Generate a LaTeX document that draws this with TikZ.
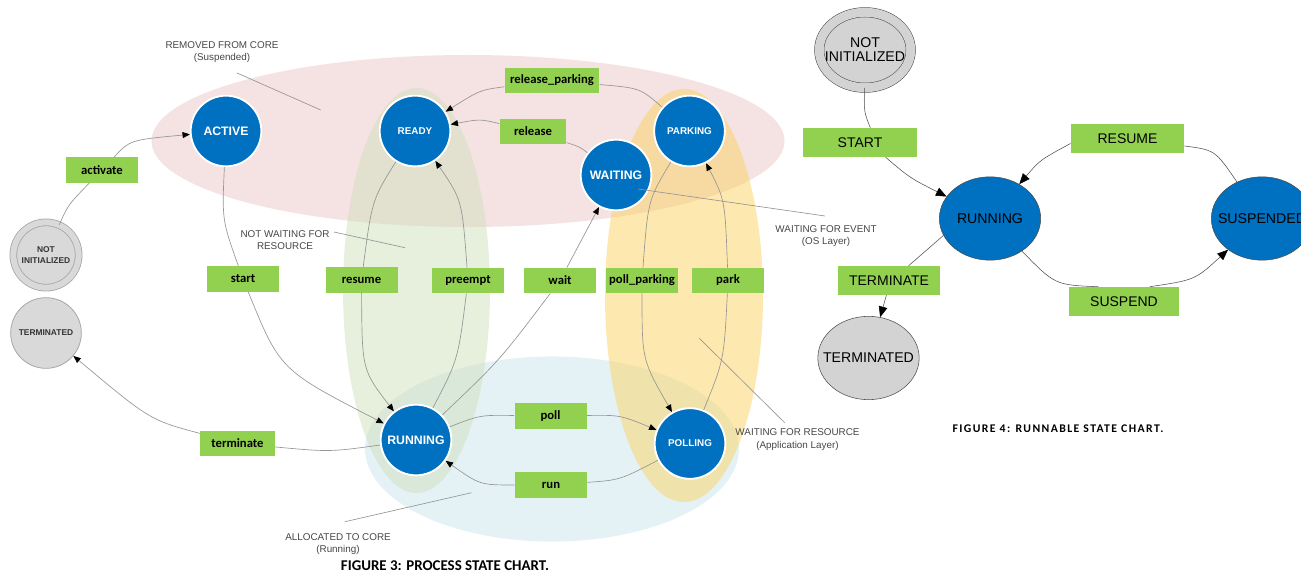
\documentclass[tikz,border=0pt]{standalone}
\usepackage{fontspec}
\setmainfont{Liberation Sans}
\newfontfamily\lblfont{Carlito}
\usetikzlibrary{arrows.meta,shapes.geometric}

\definecolor{stblue}{RGB}{0,112,192}
\definecolor{lblgreen}{RGB}{146,208,80}
\definecolor{stgray}{RGB}{217,217,217}
\definecolor{stgrayb}{RGB}{211,211,211}
\definecolor{edgegray}{RGB}{150,150,150}
\definecolor{notegray}{RGB}{70,70,70}
\definecolor{zpink}{RGB}{235,197,197}
\definecolor{zgreen}{RGB}{207,223,187}
\definecolor{zyellow}{RGB}{251,211,97}
\definecolor{zblue}{RGB}{203,229,235}

\begin{document}
\begin{tikzpicture}[x=0.75pt,y=-0.75pt,
  state/.style={circle,fill=stblue,draw=white,line width=1.4pt,text=white,
    font=\bfseries\fontsize{9.2}{10}\selectfont,minimum size=53pt,inner sep=0pt},
  smallst/.style={state,font=\bfseries\fontsize{7.4}{9}\selectfont},
  gstate/.style={circle,fill=stgray,draw=gray!70,line width=0.6pt,text=black!80,align=center,
    font=\bfseries\fontsize{6.3}{8}\selectfont,minimum size=53pt,inner sep=0pt},
  lbl/.style={fill=lblgreen,font=\lblfont\bfseries\fontsize{9.5}{11}\selectfont,
    minimum width=54pt,minimum height=19pt,inner sep=0pt},
  tr/.style={draw=edgegray,line width=0.5pt,-{Triangle[length=5.5pt,width=4.5pt,color=black]}},
  ln/.style={draw=edgegray,line width=0.5pt},
  note/.style={text=notegray,font=\fontsize{7.4}{9.2}\selectfont,align=center},
  estate/.style={ellipse,draw=black!70,line width=0.4pt,minimum width=76pt,minimum height=62.5pt,
    inner xsep=-12pt,font=\fontsize{10.6}{10.5}\selectfont,align=center},
  lbltwo/.style={fill=lblgreen,font=\fontsize{10.5}{12}\selectfont,minimum height=21.75pt,inner sep=0pt},
  lntwo/.style={draw=black!70,line width=0.4pt},
  trtwo/.style={lntwo,-{Triangle[length=8pt,width=6.5pt,color=black]}}]
\useasboundingbox (0,0) rectangle (1301,573);

\fill[zpink,fill opacity=0.5] (468,141) ellipse [x radius=237.4pt,y radius=64.5pt];
\fill[zblue,fill opacity=0.5] (552,449) ellipse [x radius=140.25pt,y radius=69.4pt];
\fill[zgreen,fill opacity=0.5] (416.5,290.5) ellipse [x radius=55.1pt,y radius=151.9pt];
\fill[zyellow,fill opacity=0.5] (684,295.5) ellipse [x radius=59.25pt,y radius=154.9pt];

\node[state] (active) at (226,131) {ACTIVE};
\node[smallst] (ready) at (415,131) {READY};
\node[smallst] (parking) at (689.5,131) {PARKING};
\node[state] (waiting) at (616,175) {WAITING};
\node[state] (running) at (416,440) {RUNNING};
\node[smallst] (polling) at (690,443.5) {POLLING};
\node[gstate,double=stgray,double distance=4.5pt,minimum size=49pt] (ninit) at (46,255) {NOT\\INITIALIZED};
\node[gstate] (term) at (46,333) {TERMINATED};

\node[lbl] (lact) at (102,170) {activate};
\node[lbl] (lstart) at (243,279) {start};
\node[lbl] (lresume) at (361.5,280) {resume};
\node[lbl] (lpreempt) at (468,280.5) {preempt};
\node[lbl] (lwait) at (560,280.5) {wait};
\node[lbl] (lpollpark) at (642,280.5) {poll\_parking};
\node[lbl] (lpark) at (728,280.5) {park};
\node[lbl,minimum width=71pt] (lrelpark) at (552,80.5) {release\_parking};
\node[lbl,minimum width=50pt] (lrelease) at (533,131.5) {release};
\node[lbl,minimum width=56pt] (lterm) at (237.5,443.5) {terminate};
\node[lbl] (lpoll) at (550.5,416) {poll};
\node[lbl] (lrun) at (551,485) {run};

\draw[ln] (ninit) .. controls (68,205) .. (lact);
\draw[tr] (lact) .. controls (130,140) .. (active);
\draw[ln] (active) .. controls (222,220) .. (lstart);
\draw[tr] (lstart) .. controls (280,370) .. (running);
\draw[ln] (ready) .. controls (372,200) .. (lresume);
\draw[tr] (lresume) .. controls (362,370) .. (running);
\draw[ln] (running) .. controls (458,360) .. (lpreempt);
\draw[tr] (lpreempt) .. controls (462,200) .. (ready);
\draw[ln] (running) .. controls (500,360) .. (lwait);
\draw[tr] (lwait) -- (waiting);
\draw[ln] (waiting) .. controls (580,147) .. (lrelease);
\draw[tr] (lrelease) .. controls (480,119) .. (ready);
\draw[ln] (parking) .. controls (640,88) .. (lrelpark);
\draw[tr] (lrelpark) .. controls (480,90) .. (ready);
\draw[ln] (parking) .. controls (648,200) .. (lpollpark);
\draw[tr] (lpollpark) .. controls (642,360) .. (polling);
\draw[ln] (polling) .. controls (724,360) .. (lpark);
\draw[tr] (lpark) .. controls (725,200) .. (parking);
\draw[ln] (running) .. controls (480,415) .. (lpoll);
\draw[tr] (lpoll) .. controls (620,415) .. (polling);
\draw[ln] (polling) .. controls (620,480) .. (lrun);
\draw[tr] (lrun) .. controls (480,485) .. (running);
\draw[ln] (running) .. controls (330,452) .. (lterm);
\draw[tr] (lterm) .. controls (150,420) .. (term);

\node[note] (nremoved) at (222,52) {REMOVED FROM CORE\\(Suspended)};
\node[note] (nnotwait) at (285,240) {NOT WAITING FOR\\RESOURCE};
\node[note] (nevent) at (826,236) {WAITING FOR EVENT\\(OS Layer)};
\node[note] (nresource) at (797.5,439.5) {WAITING FOR RESOURCE\\(Application Layer)};
\node[note] (nalloc) at (338,544) {ALLOCATED TO CORE\\(Running)};
\coordinate (aremoved) at (237,73);   \coordinate (premoved) at (320.7,110);
\coordinate (anotwait) at (334,232);  \coordinate (pnotwait) at (405,247.7);
\coordinate (aevent) at (825,216);    \coordinate (pevent) at (638,189);
\coordinate (aresource) at (785,423); \coordinate (presource) at (699,338);
\coordinate (aalloc) at (345,521.7);  \coordinate (palloc) at (471.5,492.7);
\draw[ln] (aremoved) -- (premoved);
\draw[ln] (anotwait) -- (pnotwait);
\draw[ln] (aevent) -- (pevent);
\draw[ln] (aresource) -- (presource);
\draw[ln] (aalloc) -- (palloc);

\node[font=\lblfont\bfseries\fontsize{11.2}{13}\selectfont] (capthree) at (445,566) {FIGURE 3: PROCESS STATE CHART.};

\node[estate,fill=stgrayb,double=stgrayb,double distance=6.7pt,minimum width=68.6pt,minimum height=56.6pt] (ninittwo) at (865,50) {NOT\\INITIALIZED};
\node[estate,fill=stblue] (runtwo) at (990,218.5) {RUNNING};
\node[estate,fill=stblue] (susp) at (1262,218.5) {SUSPENDED};
\node[estate,fill=stgrayb] (termtwo) at (868.5,358) {TERMINATED};
\node[lbltwo,minimum width=85.5pt] (lstarttwo) at (860,142.5) {START};
\node[lbltwo,minimum width=85pt] (lresumetwo) at (1127.5,138.5) {RESUME};
\node[lbltwo,minimum width=82.5pt] (lsusptwo) at (1124,301.5) {SUSPEND};
\node[lbltwo,minimum width=76.5pt] (ltermtwo) at (889,280.5) {TERMINATE};

\draw[lntwo] (ninittwo) .. controls (864,112) .. (lstarttwo.55);
\draw[trtwo] (lstarttwo.-30) .. controls (910,178) .. (runtwo);
\draw[lntwo] (susp) .. controls (1215,150) .. (lresumetwo);
\draw[trtwo] (lresumetwo.185) .. controls (1040,160) .. (runtwo);
\draw[lntwo] (runtwo) .. controls (1055,285) .. (lsusptwo.150);
\draw[trtwo] (lsusptwo.30) .. controls (1195,280) .. (susp);
\draw[lntwo] (runtwo.200) -- (ltermtwo.37);
\draw[trtwo] (ltermtwo.-100) -- (termtwo);

\node[font=\lblfont\bfseries\fontsize{8.8}{10}\selectfont\addfontfeature{LetterSpace=12}] (capfour) at (1058,429) {FIGURE 4: RUNNABLE STATE CHART.};
\end{tikzpicture}
\end{document}
